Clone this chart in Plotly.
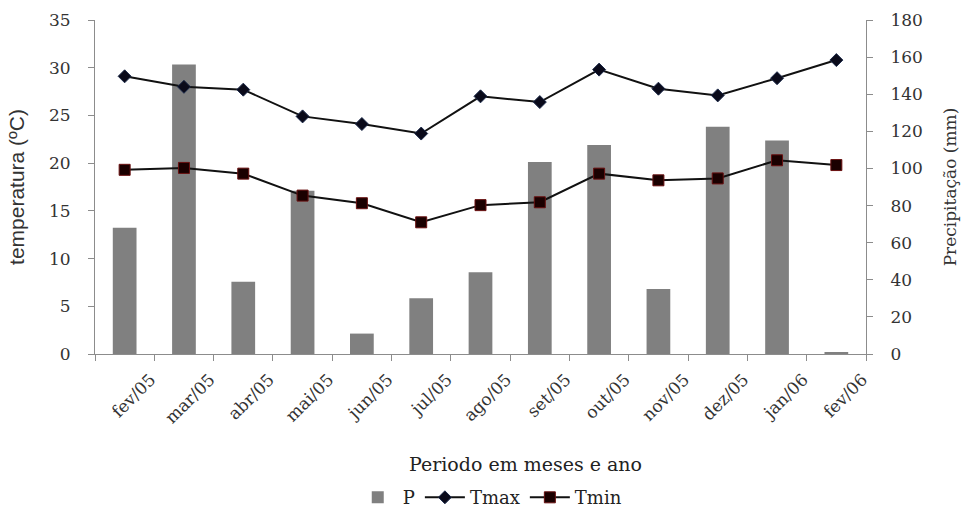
import plotly.graph_objects as go

months = ["fev/05", "mar/05", "abr/05", "mai/05", "jun/05", "jul/05", "ago/05",
          "set/05", "out/05", "nov/05", "dez/05", "jan/06", "fev/06"]
precip = [68, 156, 39, 88, 11, 30, 44, 103.5, 112.6, 35, 122.5, 115, 1]
tmax = [29.1, 28.0, 27.7, 24.9, 24.1, 23.1, 27.0, 26.4, 29.8, 27.8, 27.1, 28.9, 30.8]
tmin = [19.3, 19.5, 18.9, 16.6, 15.8, 13.8, 15.6, 15.9, 18.9, 18.2, 18.4, 20.3, 19.8]

serif = "DejaVu Serif"
axis_col = "#8c8c8c"

fig = go.Figure()
fig.add_trace(go.Bar(x=months, y=precip, name="P", yaxis="y",
                     marker=dict(color="#808080", line=dict(width=0)), width=0.4))
fig.add_trace(go.Scatter(x=months, y=tmax, name="Tmax", yaxis="y2", mode="lines+markers",
                         line=dict(color="#111111", width=2),
                         marker=dict(symbol="diamond", size=10, color="#0a0a1a",
                                     line=dict(color="#1c2a4a", width=1))))
fig.add_trace(go.Scatter(x=months, y=tmin, name="Tmin", yaxis="y2", mode="lines+markers",
                         line=dict(color="#111111", width=2),
                         marker=dict(symbol="square", size=11, color="#1a0000",
                                     line=dict(color="#6a1010", width=1))))

fig.update_layout(
    width=968, height=511,
    margin=dict(l=95, r=102, t=20, b=157, autoexpand=False),
    plot_bgcolor="white", paper_bgcolor="white",
    font=dict(family=serif, size=15, color="#333333"),
    showlegend=True,
    legend=dict(orientation="h", x=0.512, xanchor="center", y=-0.43, yanchor="middle",
                itemwidth=40,
                font=dict(family=serif, size=18, color="#222222"), traceorder="normal"),
    xaxis=dict(type="category", range=[-0.5, 12.5], showgrid=False, showline=True,
               linecolor=axis_col, linewidth=1, ticks="outside", tickson="boundaries",
               ticklen=6, tickcolor=axis_col, tickangle=-45, ticklabelshift=26,
               ticklabelstandoff=8, automargin=False,
               tickfont=dict(family=serif, size=17, color="#333333")),
    yaxis=dict(side="right", range=[0, 180], dtick=20, showgrid=False, showline=True,
               linecolor=axis_col, linewidth=1, ticks="outside", ticklen=6, tickcolor=axis_col,
               zeroline=False, ticklabelstandoff=14, automargin=False,
               tickfont=dict(family=serif, size=17, color="#333333"),
               title=dict(text="Precipitação (mm)", standoff=22,
                          font=dict(family=serif, size=17, color="#333333"))),
    yaxis2=dict(side="left", overlaying="y", range=[0, 35], dtick=5, showgrid=False,
                showline=True, linecolor=axis_col, linewidth=1, ticks="outside", ticklen=6,
                tickcolor=axis_col, zeroline=False, ticklabelstandoff=14, automargin=False,
                tickfont=dict(family=serif, size=17, color="#333333"),
                title=dict(text="temperatura (ºC)", standoff=18,
                           font=dict(family="Liberation Sans Narrow, Liberation Sans", size=21,
                                     color="#333333"))),
    annotations=[dict(text="Periodo em meses e ano", xref="paper", yref="paper",
                      x=0.559, y=-0.33, xanchor="center", yanchor="middle", showarrow=False,
                      font=dict(family=serif, size=19, color="#222222"))],
)

fig.write_html("out.html")
